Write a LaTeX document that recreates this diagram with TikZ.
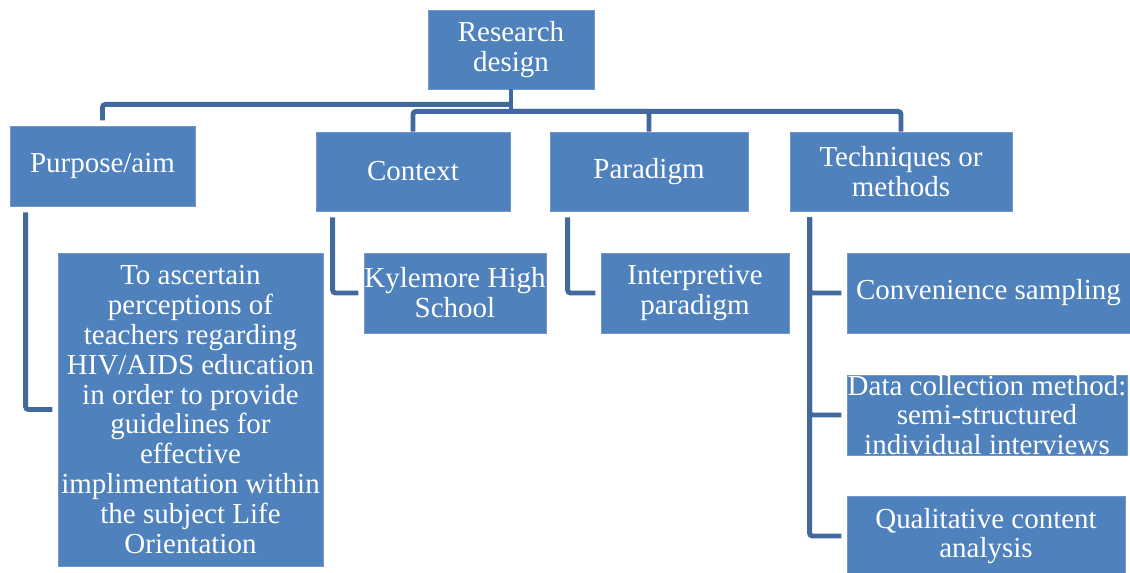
\documentclass[tikz,border=0pt]{standalone}
\usepackage{fontspec}
\setmainfont{Liberation Serif}
\newfontfamily\boxfont{Liberation Serif}
\usepackage{tikz}
\usetikzlibrary{positioning,calc}

\definecolor{boxblue}{HTML}{4F81BD}
\definecolor{boxedge}{HTML}{7197CA}
\definecolor{linkblue}{HTML}{42699E}

\begin{document}
\begin{tikzpicture}[
    x=0.02cm, y=-0.02cm,
    font=\boxfont\fontsize{16.5}{17}\selectfont,
    box/.style={rectangle, draw=boxedge, line width=0.5pt, fill=boxblue,
      text=white, align=center, inner sep=0pt, minimum height=1.6cm},
    link/.style={draw=linkblue, line width=2.8pt, rounded corners=1.7pt},
    drop/.style={link, shorten <=3.4pt, shorten >=3pt}
  ]
  \useasboundingbox (0,0) rectangle (1130,572);

  \node[box, minimum width=3.32cm, minimum height=1.58cm] (design) at (511,49.5) {Research\\design};

  \node[box, minimum width=3.70cm] (purpose)    at (102.5,166) {Purpose/aim};
  \node[box, minimum width=3.88cm, minimum height=1.58cm] (context)    at (413,171.5) {Context};
  \node[box, minimum width=3.96cm, minimum height=1.58cm] (paradigm)   at (649,171.5) {Paradigm};
  \node[box, minimum width=4.44cm, minimum height=1.58cm] (techniques) at (901,171.5) {Techniques or\\methods};

  \node[box, minimum width=5.30cm, minimum height=6.26cm] (aim) at (190.5,409.5)
    {To ascertain\\perceptions of\\teachers regarding\\HIV/AIDS education\\in order to provide\\guidelines for\\effective\\implimentation within\\the subject Life\\Orientation};
  \node[box, minimum width=3.64cm] (kylemore)     at (455,293) {Kylemore High\\School};
  \node[box, minimum width=3.76cm] (interpretive) at (695,293) {Interpretive\\paradigm};
  \node[box, minimum width=5.66cm] (convenience)  at (988.5,293) {Convenience sampling};
  \node[box, minimum width=5.60cm] (datacoll)     at (987,415) {Data collection method:\\semi-structured\\individual interviews};
  \node[box, minimum width=5.56cm] (qualitative)  at (986,536) {Qualitative content\\analysis};

  % top level
  \coordinate (hubL) at ($(design.south)+(0,15)$);
  \coordinate (hubR) at ($(design.south)+(0,22)$);
  \draw[link] (design.south) -- (hubR);
  \draw[link, shorten >=3pt] (hubL) -| (purpose.north);
  \draw[link] (hubR) -| (context.north);
  \draw[link] (hubR) -| (paradigm.north);
  \draw[link] (hubR) -| (techniques.north);

  % second level
  \draw[drop] ($(purpose.south west)+(16,0)$) |- (aim.west);
  \draw[drop] ($(context.south west)+(17,0)$) |- (kylemore.west);
  \draw[drop] ($(paradigm.south west)+(18,0)$) |- (interpretive.west);
  \draw[drop] ($(techniques.south west)+(20,0)$) |- (convenience.west);
  \draw[drop] ($(techniques.south west)+(20,0)$) |- (datacoll.west);
  \draw[drop] ($(techniques.south west)+(20,0)$) |- (qualitative.west);
\end{tikzpicture}
\end{document}
